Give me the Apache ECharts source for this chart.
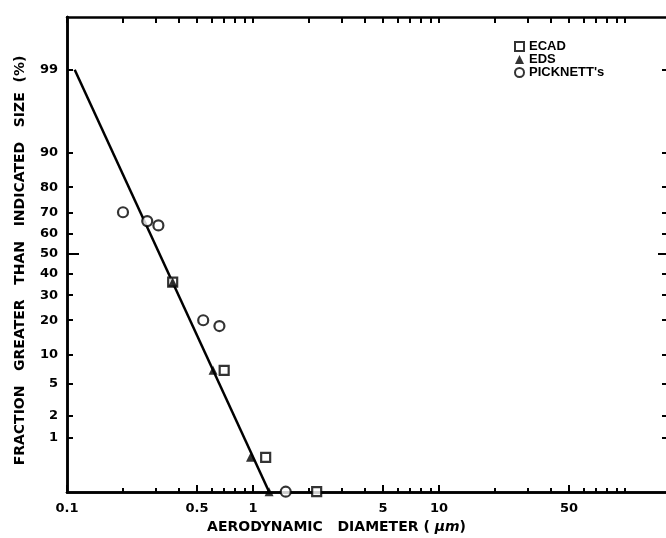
<!DOCTYPE html>
<html>
<head>
<meta charset="utf-8">
<script src="https://cdn.jsdelivr.net/npm/echarts@6/dist/echarts.min.js"></script>
<style>
  html, body { margin: 0; padding: 0; background: #fff; }
  #chart { width: 666px; height: 538px; }
</style>
</head>
<body>
<div id="chart"></div>
<script>
// Log-probability plot of aerodynamic size distribution
const pickDiam = [0.2, 0.27, 0.31, 0.54, 0.66, 1.5];
const pickPct  = [70, 66, 64, 20, 18, 0.13];
const ecadDiam = [0.37, 0.70, 1.17, 2.2];
const ecadPct  = [36, 7, 0.5, 0.13];
const edsDiam  = [0.37, 0.61, 0.97, 1.22];
const edsPct   = [36, 7, 0.5, 0.13];
const fitDiam  = [0.11, 1.22];
const fitPct   = [99, 0.13];

const xLabelTicks = [0.1, 0.5, 1, 5, 10, 50];
const xMinorTicks = [0.2, 0.3, 0.4, 0.6, 0.7, 0.8, 0.9, 2, 3, 4, 6, 7, 8, 9, 20, 30, 40, 60, 70, 80, 90, 100];
const yLabelTicks = [1, 2, 5, 10, 20, 30, 40, 50, 60, 70, 80, 90, 99];

// inverse standard normal CDF (Acklam)
function probit(p) {
  const a = [-3.969683028665376e+01, 2.209460984245205e+02, -2.759285104469687e+02, 1.383577518672690e+02, -3.066479806614716e+01, 2.506628277459239e+00];
  const b = [-5.447609879822406e+01, 1.615858368580409e+02, -1.556989798598866e+02, 6.680131188771972e+01, -1.328068155288572e+01];
  const c = [-7.784894002430293e-03, -3.223964580411365e-01, -2.400758277161838e+00, -2.549732539343734e+00, 4.374664141464968e+00, 2.938163982698783e+00];
  const d = [7.784695709041462e-03, 3.224671290700398e-01, 2.445134137142996e+00, 3.754408661907416e+00];
  const pl = 0.02425, ph = 1 - pl;
  let q, r;
  if (p < pl) {
    q = Math.sqrt(-2 * Math.log(p));
    return (((((c[0]*q+c[1])*q+c[2])*q+c[3])*q+c[4])*q+c[5]) / ((((d[0]*q+d[1])*q+d[2])*q+d[3])*q+1);
  }
  if (p <= ph) {
    q = p - 0.5; r = q * q;
    return (((((a[0]*r+a[1])*r+a[2])*r+a[3])*r+a[4])*r+a[5])*q / (((((b[0]*r+b[1])*r+b[2])*r+b[3])*r+b[4])*r+1);
  }
  q = Math.sqrt(-2 * Math.log(1 - p));
  return -(((((c[0]*q+c[1])*q+c[2])*q+c[3])*q+c[4])*q+c[5]) / ((((d[0]*q+d[1])*q+d[2])*q+d[3])*q+1);
}
const lx = v => Math.log10(v);
const pz = v => probit(v / 100);
const pts = (xs, ys) => xs.map((x, i) => [lx(x), pz(ys[i])]);

const FONT = 'Liberation Sans';
const WIDE = 'DejaVu Sans';
const X_MIN = -1, X_MAX = 2.253;
const Y_MIN = -3.015, Y_MAX = 2.995;

const xLabelFor = v => {
  const t = xLabelTicks.find(t => Math.abs(lx(t) - v) < 1e-6);
  return t === undefined ? '' : String(t);
};
const yLabelFor = v => {
  const t = yLabelTicks.find(t => Math.abs(pz(t) - v) < 1e-6);
  return t === undefined ? '' : String(t);
};

const axisLine = { show: true, onZero: false, lineStyle: { color: '#000', width: 2.5 } };
const tickStyle = { color: '#000', width: 2 };
const labelStyle = { color: '#000', fontFamily: WIDE, fontWeight: 'bold', fontSize: 13 };
const nameStyle = { color: '#000', fontFamily: WIDE, fontWeight: 'bold', fontSize: 14 };

function xAxis(opts) {
  return Object.assign({
    type: 'value', min: X_MIN, max: X_MAX, splitLine: { show: false },
    axisLine: axisLine
  }, opts);
}
function yAxis(opts) {
  return Object.assign({
    type: 'value', min: Y_MIN, max: Y_MAX, splitLine: { show: false },
    axisLine: axisLine
  }, opts);
}

const chart = echarts.init(document.getElementById('chart'), null, { renderer: 'canvas' });
chart.setOption({
  backgroundColor: '#fff',
  animation: false,
  // the frame runs past the right edge of the canvas
  grid: { left: 67, width: 605, top: 17, bottom: 46, outerBoundsMode: 'none', containLabel: false },
  legend: {
    orient: 'vertical', left: 514, top: 40, padding: 0, itemGap: 0,
    itemWidth: 9, itemHeight: 9,
    textStyle: { color: '#000', fontFamily: FONT, fontWeight: 'bold', fontSize: 13, lineHeight: 13 },
    data: ['ECAD', 'EDS', "PICKNETT's"]
  },
  xAxis: [
    xAxis({
      position: 'bottom',
      name: 'AERODYNAMIC   DIAMETER ( {it|μm})',
      nameLocation: 'middle', nameGap: 28,
      nameTextStyle: Object.assign({}, nameStyle, {
        padding: [0, 66, 0, 0],
        rich: { it: { fontFamily: WIDE, fontWeight: 'bold', fontStyle: 'italic', fontSize: 14, color: '#000' } }
      }),
      axisTick: { inside: true, length: 7, lineStyle: tickStyle, customValues: xLabelTicks.map(lx) },
      axisLabel: Object.assign({}, labelStyle, { margin: 10, customValues: xLabelTicks.map(lx), formatter: xLabelFor })
    }),
    xAxis({
      position: 'bottom',
      axisTick: { inside: true, length: 4, lineStyle: tickStyle, customValues: xMinorTicks.map(lx) },
      axisLabel: { show: false }
    }),
    xAxis({
      position: 'top',
      axisTick: { inside: true, length: 6, lineStyle: tickStyle, customValues: xLabelTicks.concat(xMinorTicks).map(lx) },
      axisLabel: { show: false }
    })
  ],
  yAxis: [
    yAxis({
      position: 'left',
      name: 'FRACTION   GREATER   THAN   INDICATED   SIZE  (%)',
      nameLocation: 'middle', nameGap: 40,
      nameTextStyle: Object.assign({}, nameStyle, { padding: [0, 12, 0, 0] }),
      axisTick: { inside: true, length: 6, lineStyle: tickStyle, customValues: yLabelTicks.map(pz) },
      axisLabel: Object.assign({}, labelStyle, { margin: 9, customValues: yLabelTicks.map(pz), formatter: yLabelFor })
    }),
    yAxis({
      position: 'left',
      axisTick: { inside: true, length: 12, lineStyle: tickStyle, customValues: [pz(50)] },
      axisLabel: { show: false }
    }),
    yAxis({
      position: 'right',
      axisTick: { inside: true, length: 10, lineStyle: tickStyle, customValues: yLabelTicks.map(pz) },
      axisLabel: { show: false }
    }),
    yAxis({
      position: 'right',
      axisTick: { inside: true, length: 14, lineStyle: tickStyle, customValues: [pz(50)] },
      axisLabel: { show: false }
    })
  ],
  series: [
    {
      name: 'fit', type: 'line', xAxisIndex: 0, yAxisIndex: 0,
      data: pts(fitDiam, fitPct), showSymbol: false, clip: false,
      lineStyle: { color: '#000', width: 2.5 }, z: 2
    },
    {
      name: 'ECAD', type: 'scatter', xAxisIndex: 0, yAxisIndex: 0, clip: false,
      data: pts(ecadDiam, ecadPct), symbol: 'rect', symbolSize: 9,
      itemStyle: { color: '#fff', borderColor: '#000', borderWidth: 2.2 }, z: 3
    },
    {
      name: 'EDS', type: 'scatter', xAxisIndex: 0, yAxisIndex: 0, clip: false,
      data: pts(edsDiam, edsPct), symbol: 'triangle', symbolSize: 9,
      itemStyle: { color: '#000' }, z: 4
    },
    {
      name: "PICKNETT's", type: 'scatter', xAxisIndex: 0, yAxisIndex: 0, clip: false,
      data: pts(pickDiam, pickPct), symbol: 'circle', symbolSize: 10,
      itemStyle: { color: '#fff', borderColor: '#000', borderWidth: 2.2 }, z: 3
    }
  ]
});
</script>
</body>
</html>
